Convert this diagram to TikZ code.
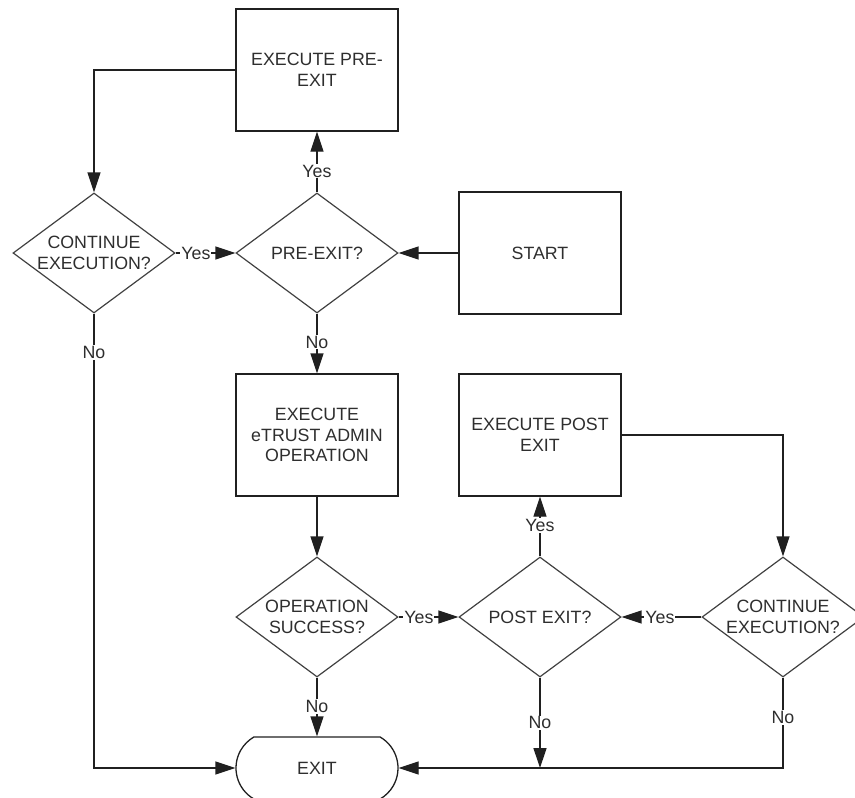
\documentclass[tikz,border=0pt]{standalone}
\usepackage{fontspec}
\setmainfont{Liberation Sans}
\usetikzlibrary{shapes.geometric,shapes.misc,arrows.meta}
\definecolor{ln}{HTML}{202020}
\definecolor{tx}{HTML}{2E2E2E}
\begin{document}
\begin{tikzpicture}[x=1pt,y=1pt,
  every node/.style={font=\fontsize{17.8}{20.7}\selectfont, text=tx},
  boxn/.style={draw=ln, line width=1.3pt, rectangle, minimum width=162pt, minimum height=122pt, align=center, inner sep=0pt},
  dia/.style={draw=ln!85!white, line width=1.2pt, diamond, minimum width=162pt, minimum height=120pt, inner sep=0pt},
  dtxt/.style={align=center, inner sep=0pt},
  term/.style={draw=ln, line width=1.3pt, rounded rectangle, rounded rectangle arc length=120, minimum width=162pt, minimum height=62pt, inner sep=0pt},
  conn/.style={draw=ln, line width=1.3pt},
  arr/.style={conn, -{Triangle[length=20pt,width=13pt]}},
  lab/.style={fill=white, inner sep=1pt}
]
\useasboundingbox (0,0) rectangle (855,-798);
% boxes
\node[boxn] (preexec) at (317,-70) {EXECUTE PRE-\\EXIT};
\node[boxn] (start) at (540,-253) {START};
\node[boxn] (etrust) at (317,-435) {EXECUTE\\eTRUST ADMIN\\OPERATION};
\node[boxn] (postexec) at (540,-435) {EXECUTE POST\\EXIT};
% diamonds
\node[dia, label={[dtxt]center:CONTINUE\\EXECUTION?}] (contL) at (94,-253) {};
\node[dia, label={[dtxt]center:PRE-EXIT?}] (preexit) at (317,-253) {};
\node[dia, label={[dtxt]center:OPERATION\\SUCCESS?}] (opsucc) at (317,-617) {};
\node[dia, label={[dtxt]center:POST EXIT?}] (postexit) at (540,-617) {};
\node[dia, label={[dtxt]center:CONTINUE\\EXECUTION?}] (contR) at (783,-617) {};
% terminal
\node[term] (exit) at (317,-768) {EXIT};
\coordinate (j) at (540,-768);
% connectors
\draw[arr] (start.west) -- (preexit.east);
\draw[arr] (preexit.north) -- node[lab, pos=0.35] (y1) {Yes} (preexec.south);
\draw[arr] (preexec.west) -| (contL.north);
\draw[arr] (contL.east) -- node[lab, pos=0.34] (y2) {Yes} (preexit.west);
\draw[arr] (contL.south) |- node[lab, pos=0.043] (n1) {No} (exit.west);
\draw[arr] (preexit.south) -- node[lab, pos=0.48] (n2) {No} (etrust.north);
\draw[arr] (etrust.south) -- (opsucc.north);
\draw[arr] (opsucc.east) -- node[lab, pos=0.34] (y3) {Yes} (postexit.west);
\draw[arr] (opsucc.south) -- node[lab, pos=0.49] (n3) {No} (exit.north);
\draw[arr] (postexit.north) -- node[lab, pos=0.52] (y4) {Yes} (postexec.south);
\draw[arr] (postexec.east) -| (contR.north);
\draw[arr] (contR.west) -- node[lab, pos=0.52] (y5) {Yes} (postexit.east);
\draw[arr] (postexit.south) -- node[lab, pos=0.5] (n4) {No} (j);
\draw[arr] (contR.south) |- node[lab, pos=0.22] (n5) {No} (exit.east);
\end{tikzpicture}
\end{document}
